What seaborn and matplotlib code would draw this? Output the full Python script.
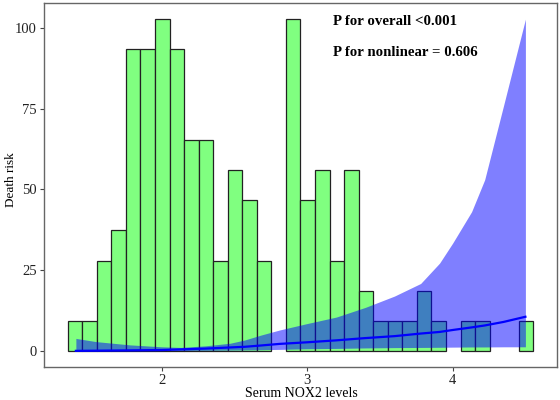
import numpy as np
import pandas as pd
import matplotlib
matplotlib.use("Agg")
import matplotlib.pyplot as plt
import seaborn as sns

# ---- data ----
bin_start = 1.354
bin_width = 0.1
bin_counts = [1, 1, 3, 4, 10, 10, 11, 10, 7, 7, 3, 6, 5, 3, 0, 11,
              5, 6, 3, 6, 2, 1, 1, 1, 2, 1, 0, 1, 1, 0, 0, 1]

curve_x = [1.41, 1.55, 1.78, 2.0, 2.13, 2.3, 2.47, 2.57, 2.68, 2.81, 3.0, 3.2,
           3.4, 3.6, 3.78, 3.91, 4.0, 4.13, 4.22, 4.35, 4.5]
risk = [0.05, 0.1, 0.2, 0.3, 0.5, 0.75, 1.1, 1.3, 1.7, 2.2, 2.7, 3.3,
        4.0, 4.6, 5.4, 5.9, 6.5, 7.3, 7.9, 9.0, 10.6]
upper = [3.9, 2.9, 1.9, 1.3, 1.1, 1.6, 2.4, 3.4, 4.9, 6.5, 8.5, 10.5,
         13.5, 17.0, 20.9, 27.2, 33.4, 43.1, 53.0, 76.0, 102.7]
lower = [0.0, 0.0, 0.05, 0.1, 0.15, 0.2, 0.3, 0.35, 0.4, 0.5, 0.7, 0.8,
         0.95, 1.05, 1.1, 1.15, 1.2, 1.25, 1.25, 1.3, 1.3]

x_ticks = [2, 3, 4]
y_ticks = [0, 25, 50, 75, 100]
annot_lines = ["P for overall <0.001", "P for nonlinear = 0.606"]

# ---- build ----
nbins = len(bin_counts)
bin_end = bin_start + bin_width * nbins
centers = bin_start + bin_width * (np.arange(nbins) + 0.5)
scale = max(upper) / max(bin_counts)
hist_df = pd.DataFrame({"x": centers, "w": np.array(bin_counts, float) * scale})
curve_df = pd.DataFrame({"x": curve_x, "risk": risk, "lo": lower, "hi": upper})

serif = ["Liberation Serif", "DejaVu Serif"]
plt.rcParams["font.family"] = serif

fig = plt.figure(figsize=(5.6, 4.0), dpi=100)
ax = fig.add_axes([0.0786, 0.0825, 0.916, 0.91])

sns.histplot(data=hist_df, x="x", weights="w", binwidth=bin_width,
             binrange=(bin_start, bin_end), ax=ax,
             color="#80FF80", alpha=1.0, edgecolor="#222222", linewidth=0.9,
             zorder=1)
for p in ax.patches:
    if p.get_height() <= 1e-9:
        p.set_visible(False)

ax.fill_between(curve_df["x"], curve_df["lo"], curve_df["hi"],
                color="#0000FF", alpha=0.5, linewidth=0, zorder=2)
sns.lineplot(data=curve_df, x="x", y="risk", ax=ax, color="#0000FF",
             linewidth=1.6, zorder=3)

ax.set_xlim(1.191, 4.717)
ax.set_ylim(-4.95, 107.7)
ax.set_xticks(x_ticks)
ax.set_xticklabels([str(t) for t in x_ticks])
ax.set_yticks(y_ticks)
ax.set_yticklabels([str(t) for t in y_ticks])
ax.tick_params(axis="both", labelsize=10.5, length=3, width=0.8,
               color="#444444", labelcolor="#222222", pad=2)
for s in ax.spines.values():
    s.set_color("#666666")
    s.set_linewidth(1.0)

ax.set_xlabel("Serum NOX2 levels", fontsize=10)
ax.set_ylabel("Death risk", fontsize=9.5)
ax.xaxis.label.set_verticalalignment("baseline")
ax.yaxis.label.set_verticalalignment("baseline")
ax.xaxis.set_label_coords(0.502, -0.0824)
ax.yaxis.set_label_coords(-0.0585, 0.514)

ax.text(3.18, 100.9, annot_lines[0], fontsize=10.7, fontweight="bold",
        va="baseline", ha="left")
ax.text(3.18, 91.3, annot_lines[1], fontsize=10.7, fontweight="bold",
        va="baseline", ha="left")

fig.savefig("out.png", dpi=100)
